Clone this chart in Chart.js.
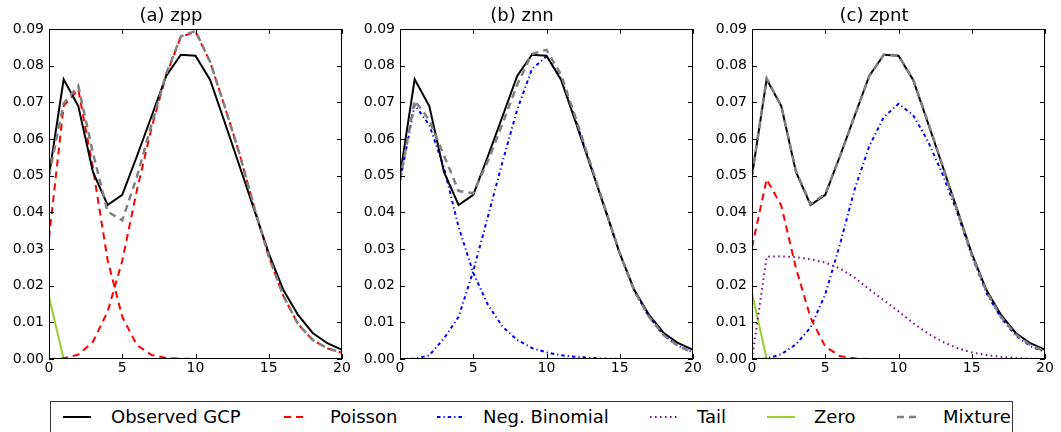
<!DOCTYPE html>
<html>
<head>
<meta charset="utf-8">
<script src="https://cdn.jsdelivr.net/npm/chart.js@4.4.1/dist/chart.umd.min.js"></script>
<style>
  body { margin: 0; background: #fff; width: 1061px; height: 432px; overflow: hidden; position: relative; font-family: "DejaVu Sans", sans-serif; }
  .panel { position: absolute; top: 0; }
  #legend { position: absolute; left: 50px; top: 401px; width: 963px; height: 40px; border: 1px solid #333; box-sizing: border-box; }
  #legend canvas { position: absolute; top: 11px; }
  #legend span { position: absolute; top: 4px; font-size: 18px; line-height: 22px; color: #000; white-space: nowrap; }
</style>
</head>
<body>
<canvas id="panelA" class="panel" width="350" height="385" style="left:0px"></canvas>
<canvas id="panelB" class="panel" width="350" height="385" style="left:351px"></canvas>
<canvas id="panelC" class="panel" width="350" height="385" style="left:703px"></canvas>
<div id="legend"></div>

<script>
// x positions (counts)
const xValues = [0, 1, 2, 3, 4, 5, 6, 7, 8, 9, 10, 11, 12, 13, 14, 15, 16, 17, 18, 19, 20];
const xTicks = [0, 5, 10, 15, 20];
const yTicks = [0, 0.01, 0.02, 0.03, 0.04, 0.05, 0.06, 0.07, 0.08, 0.09];

// observed distribution, same in all panels
const observed = [0.0500, 0.0763, 0.0690, 0.0510, 0.0420, 0.0448, 0.0553, 0.0662, 0.0772, 0.0830, 0.0827, 0.0761, 0.0645, 0.0527, 0.0408, 0.0288, 0.0188, 0.0120, 0.0071, 0.0043, 0.0025];

// (a) zpp
const poissonA1 = [0.0330, 0.0690, 0.0735, 0.0520, 0.0270, 0.0115, 0.0038, 0.0011, 0.0003, 0.0001, 0, 0, 0, 0, 0, 0, 0, 0, 0, 0, 0];
const poissonA2 = [0, 0.0002, 0.0012, 0.0047, 0.0129, 0.0268, 0.0460, 0.0630, 0.0775, 0.0878, 0.0893, 0.0810, 0.0688, 0.0560, 0.0415, 0.0280, 0.0172, 0.0095, 0.0052, 0.0029, 0.0017];
const zeroA = [0.0170, 0, 0, 0, 0, 0, 0, 0, 0, 0, 0, 0, 0, 0, 0, 0, 0, 0, 0, 0, 0];
const mixtureA = [0.0500, 0.0697, 0.0745, 0.0562, 0.0402, 0.0378, 0.0497, 0.0640, 0.0778, 0.0880, 0.0895, 0.0810, 0.0688, 0.0560, 0.0415, 0.0280, 0.0172, 0.0095, 0.0052, 0.0029, 0.0017];

// (b) znn
const negBinB1 = [0.0485, 0.0693, 0.0638, 0.0522, 0.0360, 0.0235, 0.0148, 0.0088, 0.0052, 0.0030, 0.0018, 0.0010, 0.0006, 0.0003, 0.0001, 0, 0, 0, 0, 0, 0];
const negBinB2 = [0, 0.0001, 0.0010, 0.0056, 0.0115, 0.0240, 0.0388, 0.0538, 0.0680, 0.0790, 0.0826, 0.0765, 0.0650, 0.0530, 0.0410, 0.0288, 0.0185, 0.0115, 0.0065, 0.0035, 0.0018];
const zeroB = [0, 0, 0, 0, 0, 0, 0, 0, 0, 0, 0, 0, 0, 0, 0, 0, 0, 0, 0, 0, 0];
const mixtureB = [0.0488, 0.0705, 0.0652, 0.0555, 0.0458, 0.0452, 0.0540, 0.0642, 0.0748, 0.0832, 0.0843, 0.0775, 0.0656, 0.0533, 0.0411, 0.0288, 0.0185, 0.0115, 0.0065, 0.0035, 0.0018];

// (c) zpnt
const poissonC = [0.0305, 0.0490, 0.0418, 0.0248, 0.0112, 0.0034, 0.0008, 0.0002, 0, 0, 0, 0, 0, 0, 0, 0, 0, 0, 0, 0, 0];
const negBinC = [0, 0.0001, 0.0013, 0.0040, 0.0086, 0.0176, 0.0312, 0.0462, 0.0580, 0.0660, 0.0696, 0.0665, 0.0595, 0.0505, 0.0400, 0.0282, 0.0180, 0.0112, 0.0064, 0.0035, 0.0019];
const tailC = [0, 0.0279, 0.0280, 0.0278, 0.0272, 0.0263, 0.0247, 0.0222, 0.0190, 0.0160, 0.0130, 0.0098, 0.0070, 0.0047, 0.0030, 0.0018, 0.0011, 0.0006, 0.0003, 0.0001, 0];
const zeroC = [0.0180, 0, 0, 0, 0, 0, 0, 0, 0, 0, 0, 0, 0, 0, 0, 0, 0, 0, 0, 0, 0];
const mixtureC = [0.0500, 0.0765, 0.0690, 0.0512, 0.0423, 0.0450, 0.0552, 0.0662, 0.0771, 0.0830, 0.0828, 0.0762, 0.0648, 0.0528, 0.0406, 0.0285, 0.0184, 0.0115, 0.0067, 0.0038, 0.0021];

const styles = {
    observed: { color: '#000000', width: 2, dash: [] },
    poisson: { color: '#ff0000', width: 2, dash: [7, 5] },
    negbin: { color: '#0000ff', width: 2, dash: [3.5, 3, 1.2, 3] },
    tail: { color: '#800080', width: 2, dash: [1.5, 3.5] },
    zero: { color: '#9acd32', width: 2, dash: [] },
    mixture: { color: '#808080', width: 2.5, dash: [7, 5] }
};

const tickFont = { family: 'DejaVu Sans', size: 14 };

// frame with inward ticks on all four sides, like matplotlib
const frameTicks = {
    id: 'frameTicks',
    afterDraw(chart) {
        const { ctx, chartArea: a, scales } = chart;
        const len = 5;
        ctx.save();
        ctx.strokeStyle = '#000';
        ctx.lineWidth = 1;
        ctx.strokeRect(Math.round(a.left) + 0.5, Math.round(a.top) + 0.5,
            Math.round(a.right - a.left) - 1, Math.round(a.bottom - a.top) - 1);
        ctx.beginPath();
        xTicks.forEach(v => {
            const px = Math.round(scales.x.getPixelForValue(v)) + 0.5;
            ctx.moveTo(px, a.bottom); ctx.lineTo(px, a.bottom - len);
            ctx.moveTo(px, a.top); ctx.lineTo(px, a.top + len);
        });
        yTicks.forEach(v => {
            const py = Math.round(scales.y.getPixelForValue(v)) + 0.5;
            ctx.moveTo(a.left, py); ctx.lineTo(a.left + len, py);
            ctx.moveTo(a.right, py); ctx.lineTo(a.right - len, py);
        });
        ctx.stroke();
        ctx.restore();
    }
};

function line(label, values, style, order) {
    const s = styles[style];
    return {
        label: label,
        data: xValues.map((x, i) => ({ x: x, y: values[i] })),
        borderColor: s.color,
        borderWidth: s.width,
        borderDash: s.dash,
        pointRadius: 0,
        fill: false,
        tension: 0,
        order: order
    };
}

function makePanel(id, title, datasets) {
    const ctx = document.getElementById(id).getContext('2d');
    return new Chart(ctx, {
        type: 'line',
        data: { datasets: datasets },
        plugins: [frameTicks],
        options: {
            responsive: false,
            animation: false,
            devicePixelRatio: 1,
            layout: { padding: { left: 0, right: 8, top: 0, bottom: 0 } },
            scales: {
                x: {
                    type: 'linear',
                    min: 0,
                    max: 20,
                    afterBuildTicks: s => { s.ticks = xTicks.map(v => ({ value: v })); },
                    ticks: { font: tickFont, color: '#000', padding: 1, maxRotation: 0 },
                    grid: { display: false, drawTicks: false },
                    border: { display: false },
                    afterFit: s => { s.height = 26; s.paddingLeft = 0; s.paddingRight = 0; }
                },
                y: {
                    min: 0,
                    max: 0.09,
                    afterBuildTicks: s => { s.ticks = yTicks.map(v => ({ value: v })); },
                    ticks: { font: tickFont, color: '#000', padding: 5, callback: v => v.toFixed(2) },
                    grid: { display: false, drawTicks: false },
                    border: { display: false },
                    afterFit: s => { s.width = 49; s.paddingTop = 0; s.paddingBottom = 0; }
                }
            },
            plugins: {
                legend: { display: false },
                tooltip: { enabled: false },
                title: {
                    display: true,
                    text: title,
                    color: '#000',
                    font: { family: 'DejaVu Sans', size: 18, weight: 'normal' },
                    padding: { top: 6, bottom: 1.4 }
                }
            }
        }
    });
}

makePanel('panelA', '(a) zpp', [
    line('Mixture', mixtureA, 'mixture', 0),
    line('Observed GCP', observed, 'observed', 1),
    line('Poisson', poissonA1, 'poisson', 2),
    line('Poisson', poissonA2, 'poisson', 2),
    line('Zero', zeroA, 'zero', 3)
]);

makePanel('panelB', '(b) znn', [
    line('Mixture', mixtureB, 'mixture', 0),
    line('Observed GCP', observed, 'observed', 1),
    line('Neg. Binomial', negBinB1, 'negbin', 2),
    line('Neg. Binomial', negBinB2, 'negbin', 2),
    line('Zero', zeroB, 'zero', 3)
]);

makePanel('panelC', '(c) zpnt', [
    line('Mixture', mixtureC, 'mixture', 0),
    line('Observed GCP', observed, 'observed', 1),
    line('Poisson', poissonC, 'poisson', 2),
    line('Neg. Binomial', negBinC, 'negbin', 2),
    line('Tail', tailC, 'tail', 2),
    line('Zero', zeroC, 'zero', 3)
]);

// legend below the panels
const legendItems = [
    { label: 'Observed GCP', style: 'observed', sample: 12, text: 60 },
    { label: 'Poisson', style: 'poisson', sample: 233, text: 279 },
    { label: 'Neg. Binomial', style: 'negbin', sample: 386, text: 432 },
    { label: 'Tail', style: 'tail', sample: 599, text: 646 },
    { label: 'Zero', style: 'zero', sample: 716, text: 763 },
    { label: 'Mixture', style: 'mixture', sample: 846, text: 892 }
];

const legend = document.getElementById('legend');
legendItems.forEach(item => {
    const s = styles[item.style];
    const c = document.createElement('canvas');
    c.width = 30; c.height = 8;
    c.style.left = item.sample + 'px';
    const g = c.getContext('2d');
    g.strokeStyle = s.color;
    g.lineWidth = s.width;
    g.setLineDash(s.dash);
    g.beginPath();
    g.moveTo(0, 4);
    g.lineTo(item.style === 'poisson' || item.style === 'mixture' ? 24 : 28, 4);
    g.stroke();
    legend.appendChild(c);

    const t = document.createElement('span');
    t.textContent = item.label;
    t.style.left = item.text + 'px';
    legend.appendChild(t);
});
</script>
</body>
</html>
